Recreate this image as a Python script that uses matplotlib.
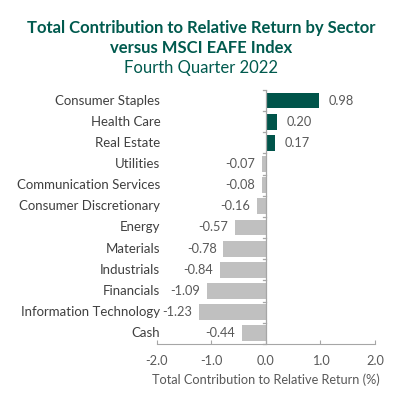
import numpy as np
import matplotlib
matplotlib.use("Agg")
import matplotlib.pyplot as plt
from matplotlib.transforms import blended_transform_factory

sectors = ["Consumer Staples", "Health Care", "Real Estate", "Utilities",
           "Communication Services", "Consumer Discretionary", "Energy",
           "Materials", "Industrials", "Financials", "Information Technology", "Cash"]
values = [0.98, 0.20, 0.17, -0.07, -0.08, -0.16, -0.57, -0.78, -0.84, -1.09, -1.23, -0.44]
xticks = [-2.0, -1.0, 0.0, 1.0, 2.0]

green = "#00544A"
grey = "#C0C0C0"
txt = "#595959"
plt.rcParams['font.family'] = ['Lato', 'DejaVu Sans']

fig = plt.figure(figsize=(4.02, 3.98), dpi=100)
ax = fig.add_axes([0.3905, 0.136, 0.5423, 0.638])

y = np.arange(len(sectors))
colors = [green if v > 0 else grey for v in values]
ax.barh(y, values, height=0.75, color=colors)
ax.set_ylim(len(sectors) - 0.5, -0.5)
ax.set_xlim(-2, 2)

# value labels
for yi, v in zip(y, values):
    if v >= 0:
        ax.annotate(f"{v:.2f}", (v, yi), xytext=(7, 0), textcoords="offset points",
                    ha="left", va="center", fontsize=9.2, color=txt)
    else:
        ax.annotate(f"{v:.2f}", (v, yi), xytext=(-5, 0), textcoords="offset points",
                    ha="right", va="center", fontsize=9.2, color=txt)

# category labels
tr = blended_transform_factory(ax.transAxes, ax.transData)
for yi, s in zip(y, sectors):
    ax.text(0.015, yi, s, transform=tr, ha="right", va="center", fontsize=9.5, color="#404040")

# spines
for side in ["top", "right", "left"]:
    ax.spines[side].set_visible(False)
ax.spines["bottom"].set_color("#A6A6A6")
ax.axvline(0, color="#A6A6A6", lw=0.9)
ax.set_yticks([])
for b in np.arange(-0.5, len(sectors), 1.0):
    ax.plot([-0.05, 0], [b, b], color="#A6A6A6", lw=0.9, clip_on=False)

ax.set_xticks(xticks)
ax.set_xticklabels([f"{t:.1f}" for t in xticks])
ax.tick_params(axis="x", direction="in", length=3, color="#A6A6A6", labelcolor=txt,
               labelsize=9.2, pad=8)
ax.set_xlabel("Total Contribution to Relative Return (%)", fontsize=9.2, color=txt, labelpad=5)

fig.text(0.5, 0.93, "Total Contribution to Relative Return by Sector", ha="center", va="center",
         fontsize=12, fontweight="bold", color="#005A4E")
fig.text(0.5, 0.88, "versus MSCI EAFE Index", ha="center", va="center",
         fontsize=12, fontweight="bold", color="#005A4E")
fig.text(0.5, 0.83, "Fourth Quarter 2022", ha="center", va="center",
         fontsize=12, color="#005A4E")

fig.savefig("out.png", dpi=100)
